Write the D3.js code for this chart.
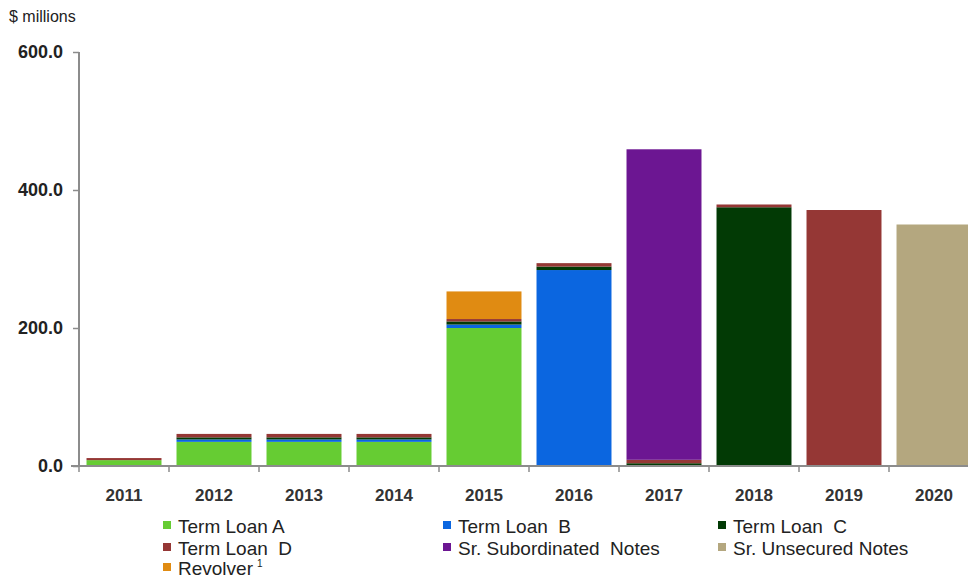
<!DOCTYPE html>
<html>
<head>
<meta charset="utf-8">
<script src="https://cdn.jsdelivr.net/npm/d3@7"></script>
<style>
  html, body { margin: 0; padding: 0; background: #fff; }
  svg { display: block; font-family: "Liberation Sans", Arial, sans-serif; }
</style>
</head>
<body>
<svg id="chart" width="968" height="580"></svg>
<script>
// Debt maturity schedule, $ millions
const years = ["2011", "2012", "2013", "2014", "2015", "2016", "2017", "2018", "2019", "2020"];
const termLoanA   = [8.5, 35, 35, 35, 200, 0, 0, 0, 0, 0];
const termLoanB   = [0, 3.5, 3.5, 3.5, 5, 284, 0, 0, 0, 0];
const termLoanC   = [0, 3, 3, 3, 4.5, 5, 4, 375, 0, 0];
const termLoanD   = [3, 5, 5, 5, 3.5, 5, 5, 4, 371, 0];
const srSubNotes  = [0, 0, 0, 0, 0, 0, 450, 0, 0, 0];
const srUnsNotes  = [0, 0, 0, 0, 0, 0, 0, 0, 0, 350];
const revolver    = [0, 0, 0, 0, 40, 0, 0, 0, 0, 0];
const yTicks = [0, 200, 400, 600];

const series = [
  { key: "termLoanA", label: "Term Loan A", values: termLoanA, color: "#66cc33" },
  { key: "termLoanB", label: "Term Loan  B", values: termLoanB, color: "#0b66e0" },
  { key: "termLoanC", label: "Term Loan  C", values: termLoanC, color: "#023a05" },
  { key: "termLoanD", label: "Term Loan  D", values: termLoanD, color: "#953735" },
  { key: "srSub", label: "Sr. Subordinated  Notes", values: srSubNotes, color: "#6c1692" },
  { key: "srUns", label: "Sr. Unsecured Notes", values: srUnsNotes, color: "#b4a77f" },
  { key: "revolver", label: "Revolver", sup: "1", values: revolver, color: "#e08b12" }
];

const rows = years.map((y, i) => {
  const r = { year: y };
  series.forEach(s => r[s.key] = s.values[i]);
  return r;
});

const svg = d3.select("#chart");
const x0 = 79, y0 = 466;
const x = d3.scaleBand().domain(years).range([x0, x0 + 900]).paddingInner(0.167).paddingOuter(0.0835);
const y = d3.scaleLinear().domain([0, 600]).range([y0, 52]);

const stack = d3.stack().keys(series.map(s => s.key));
const layers = stack(rows);

svg.append("g").selectAll("g")
  .data(layers)
  .join("g")
  .attr("fill", (d, i) => series[i].color)
  .selectAll("rect")
  .data(d => d.filter(p => p[1] - p[0] > 0))
  .join("rect")
  .attr("x", d => x(d.data.year))
  .attr("width", x.bandwidth())
  .attr("y", d => y(d[1]))
  .attr("height", d => y(d[0]) - y(d[1]));

// y axis
const yAxis = svg.append("g").attr("transform", `translate(${x0},0)`)
  .call(d3.axisLeft(y).tickValues(yTicks).tickFormat(d3.format(".1f")).tickSize(6).tickPadding(10));
yAxis.select(".domain").attr("stroke", "#8c8c8c").attr("stroke-width", 2).attr("d", `M0,${y0}V${y(600)}`);
yAxis.selectAll(".tick line").attr("stroke", "#8c8c8c").attr("stroke-width", 1.5);
yAxis.selectAll(".tick text").attr("fill", "#222").attr("font-size", 18).attr("font-weight", "bold")
  .attr("font-family", "Liberation Sans, Arial, sans-serif");

// x axis with ticks at category boundaries
const xg = svg.append("g");
xg.append("line").attr("x1", x0 - 8).attr("x2", 968).attr("y1", y0).attr("y2", y0)
  .attr("stroke", "#8c8c8c").attr("stroke-width", 2);
const step = x.step();
xg.selectAll("line.tk").data(d3.range(0, years.length + 1)).join("line")
  .attr("class", "tk")
  .attr("x1", i => x0 + i * step).attr("x2", i => x0 + i * step)
  .attr("y1", y0).attr("y2", y0 + 6)
  .attr("stroke", "#8c8c8c").attr("stroke-width", 1.5);
xg.selectAll("text").data(years).join("text")
  .attr("x", d => x(d) + x.bandwidth() / 2)
  .attr("y", 501)
  .attr("text-anchor", "middle")
  .attr("font-size", 17)
  .attr("font-weight", "bold")
  .attr("fill", "#333")
  .text(d => d);

// unit label
svg.append("text").attr("x", 9).attr("y", 22).attr("font-size", 16).attr("fill", "#222").text("$ millions");

// legend
const legCols = [163, 443, 718];
const legRows = [533, 555, 575];
const leg = svg.append("g").selectAll("g").data(series).join("g")
  .attr("transform", (d, i) => `translate(${legCols[i % 3]},${legRows[Math.floor(i / 3)]})`);
leg.append("rect").attr("x", 0).attr("y", -12).attr("width", 8).attr("height", 8).attr("fill", d => d.color);
const lt = leg.append("text").attr("x", 15).attr("y", 0).attr("font-size", 19)
  .attr("fill", "#222").style("white-space", "pre");
lt.append("tspan").text(d => d.label);
lt.filter(d => d.sup).append("tspan").attr("dx", 4).attr("dy", -8).attr("font-size", 10).text(d => d.sup);
</script>
</body>
</html>
